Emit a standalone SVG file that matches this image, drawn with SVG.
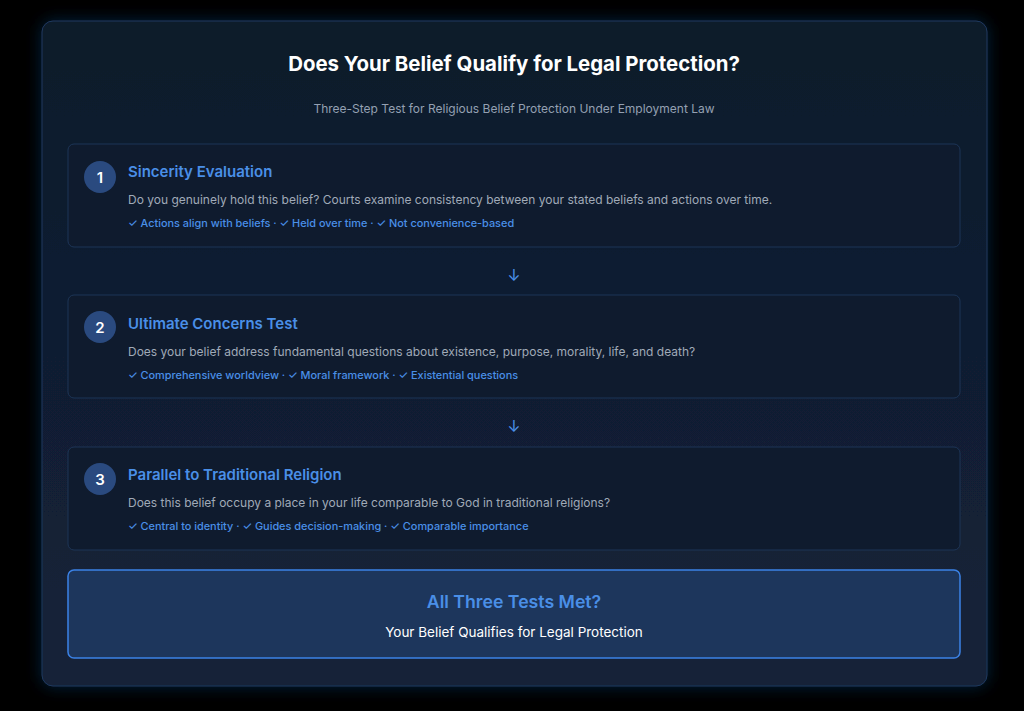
<svg xmlns="http://www.w3.org/2000/svg" width="1024" height="711" viewBox="0 0 1024 711">
<defs>
<linearGradient id="cardBg" x1="0" y1="0" x2="0" y2="1">
<stop offset="0" stop-color="#0f1a2b"/>
<stop offset="1" stop-color="#132239"/>
</linearGradient>
<filter id="glow" x="-10%" y="-10%" width="120%" height="120%">
<feGaussianBlur in="SourceAlpha" stdDeviation="8"/>
<feFlood flood-color="#1e4a8a" flood-opacity="0.45"/>
<feComposite operator="in" in2="SourceAlpha"/>
<feGaussianBlur stdDeviation="8"/>
<feMerge><feMergeNode/><feMergeNode in="SourceGraphic"/></feMerge>
</filter>
</defs>
<style>
text{font-family:Inter,"Liberation Sans",sans-serif}
.step{fill:#0f1b2e;stroke:#1d3557;stroke-width:1}
.circ{fill:#2a4a7f}
.num{fill:#ffffff;font-size:15px;font-weight:600;text-anchor:middle}
.st{fill:#4a8fe7;font-size:15px;font-weight:600}
.desc{fill:#a0aab8;font-size:12px}
.chk{fill:#4a8fe7;font-size:10.9px;font-weight:500}
.arr{fill:#4a8fe7;font-size:16px;text-anchor:middle}
</style>
<rect width="1024" height="711" fill="#000000"/>
<g id="card">
<rect x="42" y="21" width="945" height="665" rx="11" fill="url(#cardBg)" stroke="#1e3a5f" stroke-width="1" filter="url(#glow)"/>
<text x="514" y="71" fill="#ffffff" font-size="20.4" font-weight="700" text-anchor="middle">Does Your Belief Qualify for Legal Protection?</text>
<text x="514" y="113" fill="#94a0b2" font-size="12" text-anchor="middle">Three-Step Test for Religious Belief Protection Under Employment Law</text>
</g>
<g id="step1">
<rect class="step" x="68" y="144" width="892" height="103" rx="6"/>
<circle class="circ" cx="100" cy="177" r="16"/>
<text class="num" x="100" y="182.5">1</text>
<text class="st" x="128" y="177">Sincerity Evaluation</text>
<text class="desc" x="128" y="204">Do you genuinely hold this belief? Courts examine consistency between your stated beliefs and actions over time.</text>
<text class="chk" x="128" y="227">✓ Actions align with beliefs · ✓ Held over time · ✓ Not convenience-based</text>
</g>
<g id="step2">
<rect class="step" x="68" y="295" width="892" height="103" rx="6"/>
<circle class="circ" cx="100" cy="327" r="16"/>
<text class="num" x="100" y="332.5">2</text>
<text class="st" x="128" y="329">Ultimate Concerns Test</text>
<text class="desc" x="128" y="356">Does your belief address fundamental questions about existence, purpose, morality, life, and death?</text>
<text class="chk" x="128" y="379">✓ Comprehensive worldview · ✓ Moral framework · ✓ Existential questions</text>
</g>
<g id="step3">
<rect class="step" x="68" y="447" width="892" height="103" rx="6"/>
<circle class="circ" cx="100" cy="479" r="16"/>
<text class="num" x="100" y="484.5">3</text>
<text class="st" x="128" y="480">Parallel to Traditional Religion</text>
<text class="desc" x="128" y="507">Does this belief occupy a place in your life comparable to God in traditional religions?</text>
<text class="chk" x="128" y="530">✓ Central to identity · ✓ Guides decision-making · ✓ Comparable importance</text>
</g>
<g id="connectors">
<text class="arr" x="514" y="281">↓</text>
<text class="arr" x="514" y="432">↓</text>
</g>
<g id="result">
<rect x="68" y="570" width="892" height="88" rx="6" fill="#1d365c" stroke="#3b82e6" stroke-width="1.5"/>
<text x="514" y="608" fill="#4a8fe7" font-size="17.7" font-weight="600" text-anchor="middle">All Three Tests Met?</text>
<text x="514" y="637" fill="#ffffff" font-size="13.5" text-anchor="middle">Your Belief Qualifies for Legal Protection</text>
</g>
</svg>
